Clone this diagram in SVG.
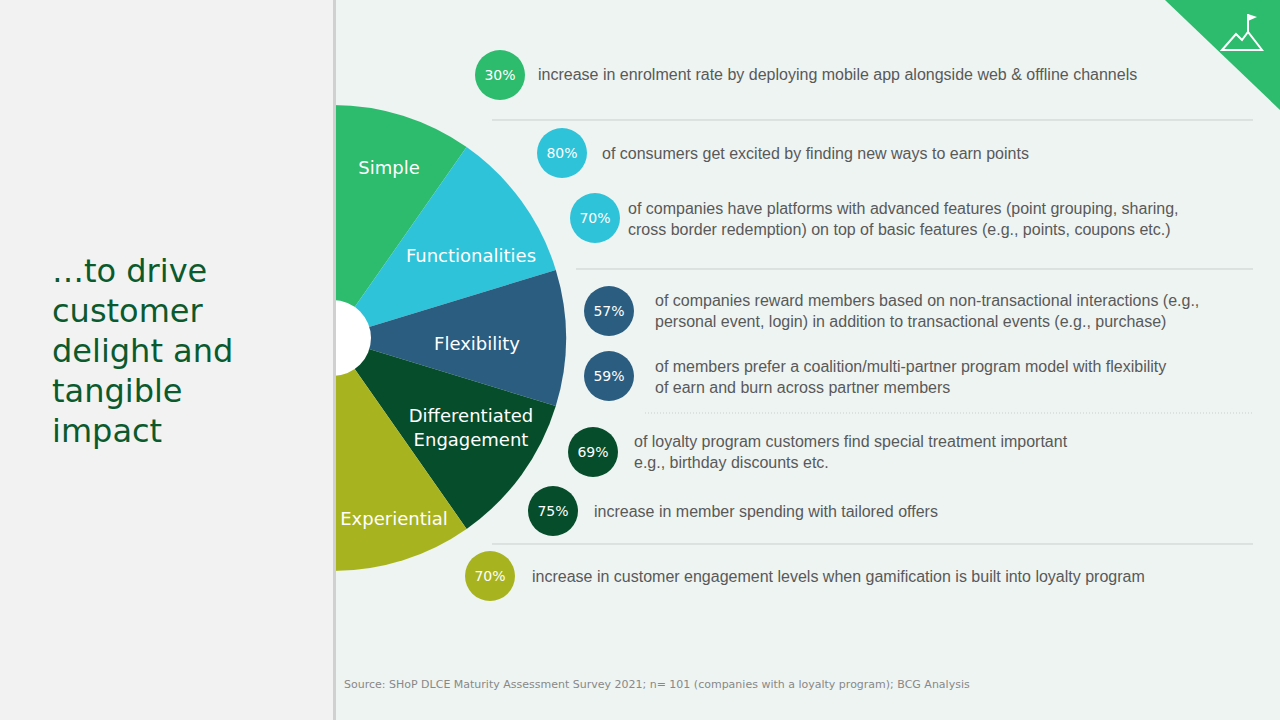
<svg xmlns="http://www.w3.org/2000/svg" width="1280" height="720" viewBox="0 0 1280 720">
<style>
.t{font-family:"Liberation Sans","DejaVu Sans",sans-serif;font-size:16px;fill:#595959}
.p{font-family:"DejaVu Sans",sans-serif;font-size:14px;fill:#fff;text-anchor:middle}
.s{font-family:"DejaVu Sans",sans-serif;font-size:18px;fill:#fff;text-anchor:middle}
.ln{stroke:#c8cfcc;stroke-width:1}
</style>
<rect width="1280" height="720" fill="#eef4f2"/>
<g id="pie">
<path d="M333,338 L333,105 A233,233 0 0 1 466.6,147.1 Z" fill="#2dbb6e"/>
<path d="M333,338 L466.6,147.1 A233,233 0 0 1 555.8,269.9 Z" fill="#2ec3d9"/>
<path d="M333,338 L555.8,269.9 A233,233 0 0 1 555.8,406.1 Z" fill="#2a5d80"/>
<path d="M333,338 L555.8,406.1 A233,233 0 0 1 466.6,528.9 Z" fill="#064d2b"/>
<path d="M333,338 L466.6,528.9 A233,233 0 0 1 333,571 Z" fill="#a8b41f"/>
<circle cx="333" cy="338" r="38" fill="#fff"/>
<text class="s" x="389" y="174">Simple</text>
<text class="s" x="471" y="262">Functionalities</text>
<text class="s" x="477" y="350">Flexibility</text>
<text class="s" x="471" y="422">Differentiated</text>
<text class="s" x="471" y="446">Engagement</text>
<text class="s" x="394" y="525">Experiential</text>
</g>
<g id="left">
<rect x="0" y="0" width="333" height="720" fill="#f2f2f2"/>
<rect x="333" y="0" width="3" height="720" fill="#d0d0d0"/>
<text font-family="DejaVu Sans,sans-serif" font-size="32" fill="#0b5a2e"><tspan x="52" y="282">…to drive</tspan><tspan x="52" y="322">customer</tspan><tspan x="52" y="362">delight and</tspan><tspan x="52" y="402">tangible</tspan><tspan x="52" y="442">impact</tspan></text>
</g>
<g id="corner">
<path d="M1165,0 L1280,0 L1280,110 Z" fill="#2dbb6e"/>
<path d="M1222,50 L1236,34 L1242,40 L1248,32 L1262,50 Z" fill="none" stroke="#fff" stroke-width="2"/>
<line x1="1248" y1="32" x2="1248" y2="14" stroke="#fff" stroke-width="2"/>
<path d="M1248,14 L1257,17 L1248,21 Z" fill="#fff"/>
</g>
<g id="connectors">
<line class="ln" x1="492" y1="120" x2="1253" y2="120"/>
<line class="ln" x1="576" y1="269" x2="1253" y2="269"/>
<line class="ln" x1="645" y1="413" x2="1253" y2="413" stroke-dasharray="1,2"/>
<line class="ln" x1="492" y1="544" x2="1253" y2="544"/>
</g>
<g id="stats">
<circle cx="500" cy="75" r="25" fill="#2dbb6e"/><text class="p" x="500" y="80">30%</text>
<text class="t" x="538" y="80">increase in enrolment rate by deploying mobile app alongside web &amp; offline channels</text>
<circle cx="562" cy="153" r="25" fill="#2ec3d9"/><text class="p" x="562" y="158">80%</text>
<text class="t" x="602" y="159">of consumers get excited by finding new ways to earn points</text>
<circle cx="595" cy="218" r="25" fill="#2ec3d9"/><text class="p" x="595" y="223">70%</text>
<text class="t"><tspan x="628" y="214">of companies have platforms with advanced features (point grouping, sharing,</tspan><tspan x="628" y="235">cross border redemption) on top of basic features (e.g., points, coupons etc.)</tspan></text>
<circle cx="609" cy="311" r="25" fill="#2a5d80"/><text class="p" x="609" y="316">57%</text>
<text class="t"><tspan x="655" y="306">of companies reward members based on non-transactional interactions (e.g.,</tspan><tspan x="655" y="327">personal event, login) in addition to transactional events (e.g., purchase)</tspan></text>
<circle cx="609" cy="376" r="25" fill="#2a5d80"/><text class="p" x="609" y="381">59%</text>
<text class="t"><tspan x="655" y="372">of members prefer a coalition/multi-partner program model with flexibility</tspan><tspan x="655" y="393">of earn and burn across partner members</tspan></text>
<circle cx="593" cy="452" r="25" fill="#064d2b"/><text class="p" x="593" y="457">69%</text>
<text class="t"><tspan x="634" y="447">of loyalty program customers find special treatment important</tspan><tspan x="634" y="468">e.g., birthday discounts etc.</tspan></text>
<circle cx="553" cy="511" r="25" fill="#064d2b"/><text class="p" x="553" y="516">75%</text>
<text class="t" x="594" y="517">increase in member spending with tailored offers</text>
<circle cx="490" cy="576" r="25" fill="#a8b41f"/><text class="p" x="490" y="581">70%</text>
<text class="t" x="532" y="582">increase in customer engagement levels when gamification is built into loyalty program</text>
</g>
<text x="344" y="688" font-family="DejaVu Sans,sans-serif" font-size="11" fill="#888">Source: SHoP DLCE Maturity Assessment Survey 2021; n= 101 (companies with a loyalty program); BCG Analysis</text>
</svg>
